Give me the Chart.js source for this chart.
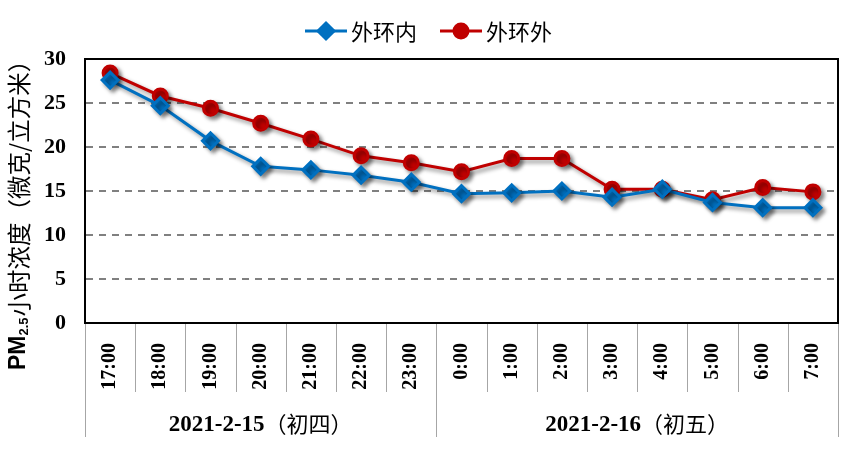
<!DOCTYPE html>
<html>
<head>
<meta charset="utf-8">
<script src="https://cdn.jsdelivr.net/npm/chart.js@4"></script>
<style>
  html, body { margin: 0; padding: 0; background: #fff; }
  #wrap { width: 852px; height: 449px; }
</style>
</head>
<body>
<div id="wrap"><canvas id="pmChart" width="852" height="449"></canvas></div>
<script>
// données
const hours = ['17:00', '18:00', '19:00', '20:00', '21:00', '22:00', '23:00',
               '0:00', '1:00', '2:00', '3:00', '4:00', '5:00', '6:00', '7:00'];
const innerRing = [27.6, 24.7, 20.7, 17.8, 17.4, 16.8, 16.0, 14.7, 14.8, 15.0, 14.3, 15.2, 13.7, 13.1, 13.1];
const outerRing = [28.4, 25.8, 24.4, 22.7, 20.9, 19.0, 18.2, 17.2, 18.7, 18.7, 15.2, 15.2, 14.0, 15.4, 14.9];
const days = ['2021-2-15（初四）', '2021-2-16（初五）'];
const dayStarts = [0, 7];
const yTicks = [0, 5, 10, 15, 20, 25, 30];

const serif = '"Times New Roman", "Liberation Serif", serif';
const cjk = '"Noto Sans CJK SC", sans-serif';

/**
 * Ombre portée sous les lignes et les marqueurs
 */
const shadowPlugin = {
    id: 'shadow',
    beforeDatasetsDraw(chart) {
        const ctx = chart.ctx;
        ctx.save();
        ctx.shadowColor = 'rgba(0, 0, 0, 0.45)';
        ctx.shadowBlur = 4;
        ctx.shadowOffsetX = 3;
        ctx.shadowOffsetY = 3;
    },
    afterDatasetsDraw(chart) {
        chart.ctx.restore();
    }
};

/**
 * Cadre, séparateurs, dates, légende et titre de l'axe Y
 */
const decorPlugin = {
    id: 'decor',
    afterDraw(chart) {
        const ctx = chart.ctx;
        const area = chart.chartArea;
        const x = chart.scales.x;
        const n = hours.length;
        const bottom = chart.height - 12;

        // séparateurs sous l'axe X
        const edge = i => {
            if (i <= 0) return x.left;
            if (i >= n) return x.right;
            return (x.getPixelForValue(i - 1) + x.getPixelForValue(i)) / 2;
        };
        ctx.save();
        ctx.strokeStyle = '#a6a6a6';
        ctx.lineWidth = 1;
        for (let i = 0; i <= n; i++) {
            const long = i === 0 || i === n || dayStarts.includes(i);
            const px = Math.round(edge(i)) + 0.5;
            ctx.beginPath();
            ctx.moveTo(px, area.bottom);
            ctx.lineTo(px, long ? bottom : area.bottom + 69);
            ctx.stroke();
        }

        // étiquettes des jours
        ctx.fillStyle = '#000';
        ctx.textBaseline = 'middle';
        const headFont = 'bold 23px ' + serif;
        const tailFont = '22px ' + cjk;
        days.forEach((label, d) => {
            const start = dayStarts[d];
            const end = d + 1 < dayStarts.length ? dayStarts[d + 1] : n;
            const cx = (edge(start) + edge(end)) / 2;
            const m = label.indexOf('（');
            const head = label.slice(0, m);
            const tail = label.slice(m);
            ctx.font = headFont;
            const w1 = ctx.measureText(head).width;
            ctx.font = tailFont;
            const w2 = ctx.measureText(tail).width;
            const px = cx - (w1 + w2) / 2;
            ctx.textAlign = 'left';
            ctx.font = headFont;
            ctx.fillText(head, px, 425);
            ctx.font = tailFont;
            ctx.fillText(tail, px + w1, 424);
        });

        // cadre noir
        ctx.strokeStyle = '#000';
        ctx.lineWidth = 2;
        ctx.strokeRect(area.left, area.top, area.right - area.left, area.bottom - area.top);

        // légende
        const legendX = [305, 440];
        ctx.textAlign = 'left';
        ctx.font = '22px ' + cjk;
        chart.data.datasets.forEach((ds, i) => {
            const lx = legendX[i];
            const ly = 31;
            ctx.strokeStyle = ds.borderColor;
            ctx.lineWidth = 3;
            ctx.beginPath();
            ctx.moveTo(lx, ly);
            ctx.lineTo(lx + 42, ly);
            ctx.stroke();
            ctx.fillStyle = ds.borderColor;
            Chart.helpers.drawPoint(ctx, {
                pointStyle: ds.pointStyle,
                radius: ds.pointRadius,
                borderWidth: 1
            }, lx + 21, ly);
            ctx.fillStyle = '#000';
            ctx.fillText(ds.label, lx + 46, ly + 1);
        });

        // titre de l'axe Y (PM2.5 en indice)
        ctx.translate(19, 370);
        ctx.rotate(-Math.PI / 2);
        ctx.textBaseline = 'middle';
        let tx = 0;
        ctx.font = 'bold 23px "Liberation Sans", Arial, sans-serif';
        ctx.fillText('PM', tx, 0);
        tx += ctx.measureText('PM').width;
        ctx.font = 'bold 13px "Liberation Sans", Arial, sans-serif';
        ctx.fillText('2.5', tx, 5);
        tx += ctx.measureText('2.5').width + 1;
        ctx.font = '23.5px ' + cjk;
        ctx.fillText('小时浓度（微克/立方米）', tx, 0);
        ctx.restore();
    }
};

function initPmChart() {
    const ctx = document.getElementById('pmChart');

    new Chart(ctx.getContext('2d'), {
        type: 'line',
        data: {
            labels: hours,
            datasets: [{
                label: '外环内',
                data: innerRing,
                borderColor: '#0070C0',
                backgroundColor: '#0070C0',
                borderWidth: 3,
                pointStyle: 'rectRot',
                pointRadius: 8,
                pointHoverRadius: 8,
                tension: 0
            }, {
                label: '外环外',
                data: outerRing,
                borderColor: '#C00000',
                backgroundColor: '#C00000',
                borderWidth: 3,
                pointStyle: 'circle',
                pointRadius: 7,
                pointHoverRadius: 7,
                tension: 0
            }]
        },
        options: {
            responsive: false,
            animation: false,
            layout: {
                padding: { top: 59, right: 14, bottom: 0, left: 0 }
            },
            plugins: {
                legend: { display: false },
                tooltip: { enabled: false }
            },
            scales: {
                x: {
                    offset: true,
                    grid: { display: false },
                    border: { display: false },
                    ticks: {
                        color: '#000',
                        font: { family: serif, size: 20, weight: 'bold' },
                        minRotation: 90,
                        maxRotation: 90,
                        padding: 12,
                        autoSkip: false
                    },
                    afterFit(scale) { scale.height = 126; }
                },
                y: {
                    min: 0,
                    max: 30,
                    afterBuildTicks(scale) { scale.ticks = yTicks.map(v => ({ value: v })); },
                    grid: {
                        color: c => (c.tick.value === 0 || c.tick.value === 30) ? 'rgba(0,0,0,0)' : '#808080',
                        lineWidth: 2,
                        drawTicks: false
                    },
                    border: { display: true, color: '#000', width: 2, dash: [7, 6] },
                    ticks: {
                        color: '#000',
                        font: { family: serif, size: 22, weight: 'bold' },
                        padding: 19
                    },
                    afterFit(scale) { scale.width = 85; }
                }
            }
        },
        plugins: [shadowPlugin, decorPlugin]
    });
}

initPmChart();
</script>
</body>
</html>
